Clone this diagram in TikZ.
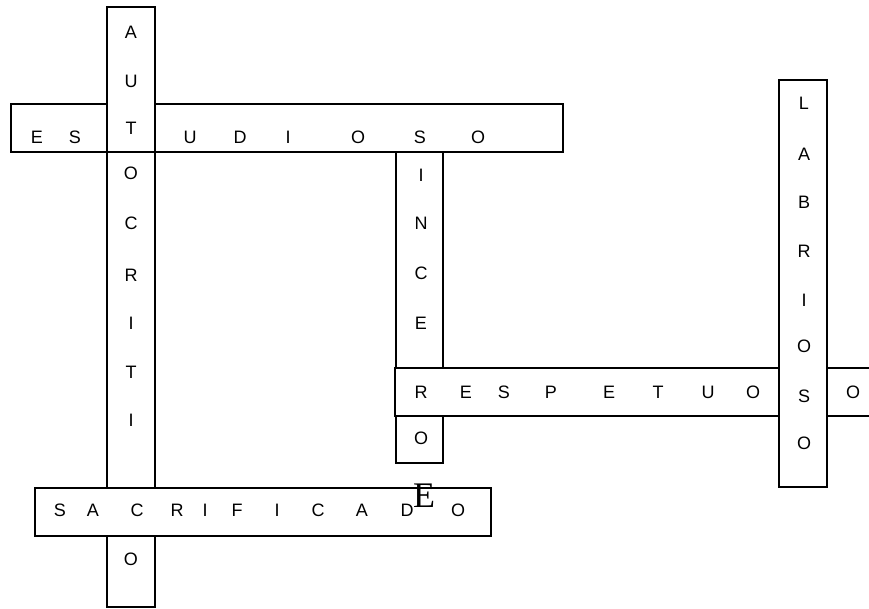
\documentclass[tikz,border=0pt]{standalone}
\usepackage{fontspec}
\setmainfont{Liberation Sans}
\newfontfamily\serifE{Liberation Serif}

\tikzset{
  wordbox/.style={draw=black, line width=1pt, fill=white},
  letter/.style={font=\fontsize{13.5}{16}\selectfont, inner sep=0pt},
}

\begin{document}
\begin{tikzpicture}[x=0.75pt, y=-0.75pt]
        \useasboundingbox (0,0) rectangle (869,608);
        \clip (0,0) rectangle (869,608);

        % 1. casillas horizontales y verticales (en pixeles)
        \draw[wordbox] (11,104) rectangle (563,152);   % ESTUDIOSO
        \draw[wordbox] (107,7) rectangle (155,607);    % AUTOCRITICO
        \draw[line width=1pt] (107,152) -- (155,152);
        \draw[wordbox] (35,488) rectangle (491,536);   % SACRIFICADO
        \draw[wordbox] (396,152) rectangle (443,463);  % SINCERO
        \draw[wordbox] (395,368) rectangle (880,416);  % RESPETUOSO
        \draw[wordbox] (779,80) rectangle (827,487);   % LABRIOSO

        % 2. letras de cada palabra
        \foreach \ch/\x [count=\i] in {E/37, S/75, U/190, D/240, I/288, O/358, S/420, O/478} {
            \node[letter] (est-\i) at (\x,137) {\ch};
        }
        \foreach \ch/\y [count=\i] in {A/32, U/81, T/128, O/173, C/223, R/275, I/323, T/372, I/420, O/559} {
            \node[letter] (aut-\i) at (131,\y) {\ch};
        }
        \foreach \ch/\y [count=\i] in {I/175, N/223, C/273, E/323, R/392, O/438} {
            \node[letter] (sin-\i) at (421,\y) {\ch};
        }
        \foreach \ch/\x [count=\i] in {E/466, S/504, P/551, E/609, T/658, U/708, O/753, O/853} {
            \node[letter] (res-\i) at (\x,392) {\ch};
        }
        \foreach \ch/\y [count=\i] in {L/103, A/154, B/202, R/251, I/300, O/346, S/396, O/443} {
            \node[letter] (lab-\i) at (804,\y) {\ch};
        }
        \foreach \ch/\x [count=\i] in {S/60, A/93, C/137, R/177, I/205, F/237, I/277, C/318, A/362, D/407, O/458} {
            \node[letter] (sac-\i) at (\x,510) {\ch};
        }

        % 3. letra suelta
        \node[font=\serifE\fontsize{27}{30}\selectfont, inner sep=0pt] (sueltaE) at (424,496) {E};

    \end{tikzpicture}
\end{document}
